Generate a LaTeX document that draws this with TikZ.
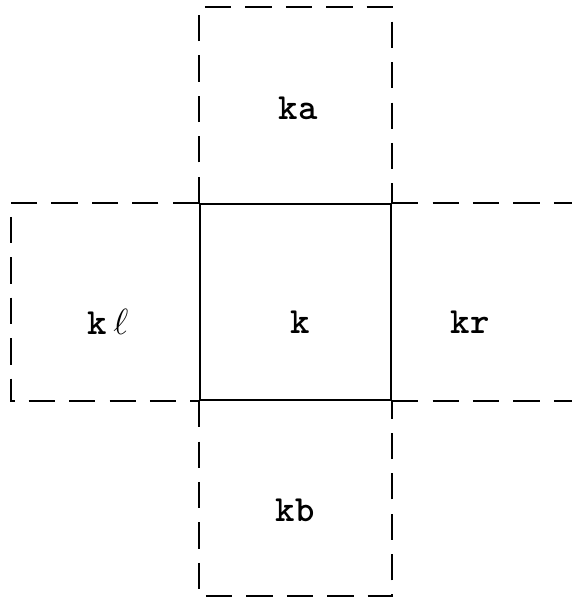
\documentclass[tikz,border=0pt]{standalone}
\usepackage{tikz}
\usetikzlibrary{positioning,calc}

\begin{document}
\begin{tikzpicture}[
    x=0.02cm, y=-0.02cm,
    cell/.style={draw, line width=1.3pt, minimum width=3.82cm, minimum height=3.92cm, inner sep=0pt},
    ghost/.style={line width=1.5pt, dash pattern=on 15pt off 8pt},
    lab/.style={font=\ttfamily\bfseries\fontsize{21}{24}\selectfont}
]
\useasboundingbox (0,0) rectangle (571,601);
\node[cell] (k) at (295.5,302) {};
\node[lab] (klab) at (300,322) {k};
\node[lab] (ka) at (298,108) {ka};
\node[lab] (kb) at (295,510) {kb};
\node[lab] (kl) at (108,322) {k\,$\ell$};
\node[lab] (kr) at (470,322) {kr};
% neighbour cells
\draw[ghost] (k.north west) -- ++(0,-196) -| (k.north east);
\draw[ghost] (k.south west) -- ++(0,195) -| (k.south east);
\draw[ghost] (k.north west) -- ++(-188,0) |- (k.south west);
\draw[ghost] (k.north east) -- ++(181,0);
\draw[ghost] (k.south east) -- ++(181,0);
\end{tikzpicture}
\end{document}
